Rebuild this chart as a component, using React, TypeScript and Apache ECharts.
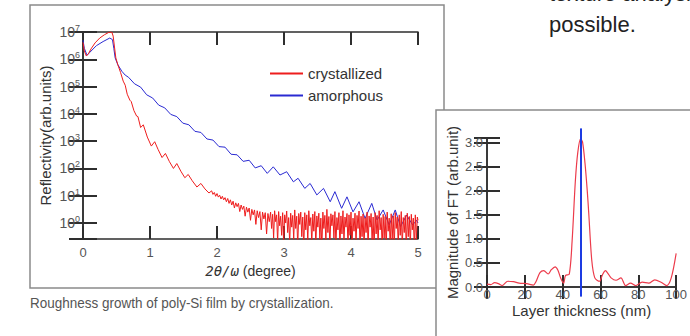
import React, { useEffect, useRef } from 'react';
import * as echarts from 'echarts';

// ---- main chart: X-ray reflectivity, [2theta (deg), log10 reflectivity] ----
const crystallized: [number, number][] = [
  [0.0, 6.62], [0.02, 6.3], [0.05, 6.12], [0.08, 6.2], [0.12, 6.38], [0.18, 6.6], [0.25, 6.78], [0.32, 6.9],
  [0.38, 6.98], [0.43, 7.0], [0.45, 6.85], [0.47, 6.45], [0.49, 6.05], [0.52, 5.8], [0.56, 5.52], [0.6, 5.2],
  [0.63, 5.05], [0.66, 4.72], [0.7, 4.5], [0.72, 4.45], [0.76, 4.12], [0.8, 3.92], [0.82, 3.9], [0.86, 3.5],
  [0.9, 3.6], [0.96, 3.15], [1.02, 2.82], [1.07, 2.98], [1.12, 2.7], [1.18, 2.4], [1.23, 2.55], [1.29, 2.25],
  [1.35, 2.0], [1.4, 2.18], [1.46, 1.9], [1.52, 1.66], [1.57, 1.78], [1.63, 1.55], [1.7, 1.32], [1.76, 1.45],
  [1.82, 1.25], [1.88, 1.1], [1.92, 1.18], [1.94, 1.05], [1.96, 1.12], [1.98, 0.98], [2.0, 1.08], [2.02, 0.95],
  [2.04, 1.02], [2.06, 0.88], [2.08, 0.98], [2.1, 0.85], [2.12, 0.93], [2.14, 0.78], [2.16, 0.9], [2.18, 0.72],
  [2.2, 0.85], [2.22, 0.66], [2.24, 0.8], [2.26, 0.55], [2.28, 0.74], [2.3, 0.6], [2.32, 0.72], [2.34, 0.42],
  [2.36, 0.66], [2.38, 0.5], [2.4, 0.62], [2.42, 0.25], [2.44, 0.58], [2.46, 0.4], [2.48, 0.55], [2.5, 0.1],
  [2.52, 0.5], [2.54, 0.3], [2.56, 0.48], [2.58, -0.05], [2.6, 0.45], [2.62, 0.2], [2.64, 0.42], [2.66, -0.25],
  [2.68, 0.4], [2.7, 0.15], [2.72, 0.38], [2.74, -0.4], [2.76, 0.35], [2.78, 0.05],
  [2.8, 0.4], [2.815, -0.2], [2.83, 0.32], [2.845, -0.55], [2.86, 0.45], [2.875, 0.05], [2.89, 0.3], [2.905, -0.7],
  [2.92, 0.42], [2.935, -0.1], [2.95, 0.25], [2.965, -0.45], [2.98, 0.38], [2.995, -0.8], [3.01, 0.3], [3.025, 0.0],
  [3.04, 0.44], [3.055, -0.35], [3.07, 0.2], [3.085, -0.75], [3.1, 0.36], [3.115, -0.15], [3.13, 0.28], [3.145, -0.6],
  [3.16, 0.48], [3.175, -0.2], [3.19, 0.25], [3.205, -0.85], [3.22, 0.35], [3.235, -0.05], [3.25, 0.4], [3.265, -0.5],
  [3.28, 0.22], [3.295, -0.9], [3.31, 0.38], [3.325, -0.25], [3.34, 0.3], [3.355, -0.65], [3.37, 0.45], [3.385, -0.1],
  [3.4, 0.2], [3.415, -0.75], [3.43, 0.33], [3.445, -0.3], [3.46, 0.42], [3.475, -0.85], [3.49, 0.26], [3.505, -0.15],
  [3.52, 0.36], [3.535, -0.6], [3.55, 0.18], [3.565, -0.95], [3.58, 0.4], [3.595, -0.2], [3.61, 0.28], [3.625, -0.7],
  [3.64, 0.5], [3.655, -0.35], [3.67, 0.24], [3.685, -0.9], [3.7, 0.34], [3.715, -0.1], [3.73, 0.3], [3.745, -0.55],
  [3.76, 0.42], [3.775, -0.8], [3.79, 0.2], [3.805, -0.25], [3.82, 0.38], [3.835, -0.95], [3.85, 0.26], [3.865, -0.4],
  [3.88, 0.45], [3.895, -0.7], [3.91, 0.22], [3.925, -0.15], [3.94, 0.35], [3.955, -0.85], [3.97, 0.3], [3.985, -0.45],
  [4.0, 0.4], [4.015, -0.9], [4.03, 0.18], [4.045, -0.3], [4.06, 0.36], [4.075, -0.75], [4.09, 0.28], [4.105, -0.2],
  [4.12, 0.44], [4.135, -0.95], [4.15, 0.25], [4.165, -0.5], [4.18, 0.33], [4.195, -0.85], [4.21, 0.2], [4.225, -0.35],
  [4.24, 0.4], [4.255, -0.9], [4.27, 0.26], [4.285, -0.15], [4.3, 0.35], [4.315, -0.7], [4.33, 0.22], [4.345, -0.95],
  [4.36, 0.38], [4.375, -0.4], [4.39, 0.28], [4.405, -0.8], [4.42, 0.45], [4.435, -0.25], [4.45, 0.2], [4.465, -0.9],
  [4.48, 0.32], [4.495, -0.55], [4.51, 0.24], [4.525, -0.95], [4.54, 0.4], [4.555, -0.3], [4.57, 0.18], [4.585, -0.85],
  [4.6, 0.34], [4.615, -0.6], [4.63, 0.26], [4.645, -0.95], [4.66, 0.38], [4.675, -0.2], [4.69, 0.22], [4.705, -0.8],
  [4.72, 0.3], [4.735, -0.45], [4.75, 0.42], [4.765, -0.9], [4.78, 0.2], [4.795, -0.35], [4.81, 0.28], [4.825, -0.95],
  [4.84, 0.36], [4.855, -0.5], [4.87, 0.24], [4.885, -0.85], [4.9, 0.32], [4.915, -0.25], [4.93, 0.18], [4.945, -0.9],
  [4.96, 0.3], [4.975, -0.6], [4.99, 0.22], [5.0, 0.1],
];

const amorphous: [number, number][] = [
  [0.0, 6.7], [0.02, 6.4], [0.06, 6.15], [0.1, 6.25], [0.2, 6.5], [0.3, 6.65], [0.4, 6.78], [0.44, 6.72],
  [0.46, 6.4], [0.48, 6.05], [0.52, 5.8], [0.58, 5.56], [0.63, 5.42], [0.68, 5.34], [0.77, 5.1], [0.86, 4.98],
  [0.95, 4.7], [1.04, 4.58], [1.13, 4.32], [1.22, 4.22], [1.31, 3.98], [1.4, 3.9], [1.49, 3.66], [1.58, 3.6],
  [1.67, 3.36], [1.76, 3.32], [1.85, 3.08], [1.94, 3.04], [2.03, 2.8], [2.12, 2.78], [2.21, 2.52], [2.3, 2.5],
  [2.39, 2.26], [2.48, 2.3], [2.57, 2.02], [2.66, 2.1], [2.75, 1.82], [2.84, 2.06], [2.94, 1.76], [3.04, 1.88],
  [3.14, 1.51], [3.21, 1.64], [3.31, 1.27], [3.39, 1.45], [3.49, 1.03], [3.59, 1.27], [3.69, 0.78], [3.76, 1.15],
  [3.86, 0.54], [3.94, 0.96], [4.03, 0.41], [4.12, 0.78], [4.21, 0.17], [4.31, 0.72], [4.39, 0.11], [4.48, 0.48],
  [4.57, -0.07], [4.66, 0.48], [4.74, -0.13], [4.83, 0.29], [4.92, -0.07], [4.98, 0.1], [5.0, 0.0],
];

const seriesNames = ['crystallized', 'amorphous'];

// ---- inset: Fourier transform magnitude vs layer thickness ----
const layerThickness = [
  0, 2, 4, 6, 8, 11, 14, 17, 21, 24.5, 26, 28, 30, 32.3, 34, 36, 37.5, 39, 40.5, 41.5, 43.5, 45, 46.7, 48,
  49.5, 50.5, 51.8, 53, 53.8, 55.4, 57, 59.5, 61, 62.6, 64, 65.6, 68.2, 70.8, 73.3, 75.9, 78.5, 82, 85.5, 88.7,
  92, 95, 97.4, 100,
];
const ftMagnitude = [
  0.06, 0.05, 0.09, 0.07, 0.03, 0.12, 0.11, 0.08, 0.07, 0.04, 0.12, 0.3, 0.34, 0.27, 0.36, 0.42, 0.35, 0.18,
  0.08, 0.24, 0.27, 0.96, 2.2, 2.8, 3.08, 3.02, 2.58, 2.0, 1.53, 0.55, 0.19, 0.12, 0.25, 0.34, 0.28, 0.19, 0.14,
  0.19, 0.03, 0.08, 0.03, 0.1, 0.08, 0.15, 0.1, 0.03, 0.19, 0.7,
];
const peakThickness = 49.7;
const peakLineSpan = [-0.2, 3.3];

const FONT = '"Liberation Sans", Arial, Helvetica, sans-serif';
const AXIS = '#2e2e2e';
const RED = '#ee1d1d';
const BLUE = '#2a2ad2';

export default function App() {
  const ref = useRef<HTMLDivElement>(null);

  useEffect(() => {
    if (!ref.current) return;
    const chart = echarts.init(ref.current, undefined, { renderer: 'svg' });

    const axisLine = { show: true, lineStyle: { color: AXIS, width: 1.5 } };
    const tick = (len: number) => ({ show: true, inside: true, length: len, lineStyle: { color: AXIS, width: 2 } });
    const toLog = (d: [number, number][]) => d.map(([t, lg]) => [t, Math.pow(10, lg)]);

    const option: any = {
      animation: false,
      textStyle: { fontFamily: FONT },
      grid: [
        { left: 83, top: 32, width: 335, height: 207, containLabel: false },
        { left: 487, top: 138, width: 195, height: 149, containLabel: false },
      ],
      legend: {
        orient: 'vertical',
        left: 265,
        top: 61,
        itemWidth: 33,
        itemHeight: 2,
        itemGap: 7,
        icon: 'rect',
        selectedMode: false,
        textStyle: { fontSize: 15, color: '#333', fontFamily: FONT },
        data: seriesNames,
      },
      xAxis: [
        {
          gridIndex: 0, type: 'value', position: 'bottom', min: 0, max: 5, interval: 1,
          axisLine, axisTick: tick(13), splitLine: { show: false },
          axisLabel: { fontSize: 13, color: '#555', margin: 7 },
          name: '{i|2θ/ω} (degree)', nameLocation: 'middle', nameGap: 21,
          nameTextStyle: {
            fontSize: 14, color: '#333', fontFamily: FONT,
            rich: { i: { fontSize: 14, fontStyle: 'italic', fontFamily: '"DejaVu Sans Mono", monospace', color: '#333' } },
          },
        },
        {
          gridIndex: 0, type: 'value', position: 'top', min: 0, max: 5, interval: 1,
          axisLine, axisTick: tick(13), splitLine: { show: false }, axisLabel: { show: false },
        },
        {
          gridIndex: 1, type: 'value', position: 'bottom', min: 0, max: 100, interval: 20,
          axisLine, axisTick: tick(12), splitLine: { show: false },
          axisLabel: { fontSize: 13, color: '#555', margin: 1 },
          name: 'Layer thickness (nm)', nameLocation: 'middle', nameGap: 16,
          nameTextStyle: { fontSize: 15, color: '#333', fontFamily: FONT },
        },
        {
          gridIndex: 1, type: 'value', position: 'top', min: 0, max: 100, interval: 20,
          axisLine, axisTick: tick(12), splitLine: { show: false }, axisLabel: { show: false },
        },
      ],
      yAxis: [
        {
          gridIndex: 0, type: 'log', logBase: 10, position: 'left', min: 0.26, max: 1e7,
          axisLine, axisTick: tick(14), splitLine: { show: false }, minorTick: { show: false },
          axisLabel: {
            margin: 3, color: '#555',
            formatter: (v: number) => {
              const lg = Math.log10(v);
              const e = Math.round(lg);
              if (Math.abs(lg - e) > 0.01) return '';
              return `{b|10}{e|${e}}`;
            },
            rich: {
              b: { fontSize: 14, lineHeight: 17, color: '#555', fontFamily: FONT },
              e: { fontSize: 9, lineHeight: 9, verticalAlign: 'top', color: '#555', fontFamily: FONT },
            },
          },
          name: 'Reflectivity(arb.units)', nameLocation: 'middle', nameGap: 30, nameRotate: 90,
          nameTextStyle: { fontSize: 15, color: '#333', fontFamily: FONT },
        },
        {
          gridIndex: 0, type: 'log', logBase: 10, position: 'right', min: 0.26, max: 1e7,
          axisLine, axisTick: tick(14), splitLine: { show: false }, axisLabel: { show: false },
        },
        {
          gridIndex: 1, type: 'value', position: 'left', min: 0, max: 3.1, interval: 0.5,
          axisLine, axisTick: tick(13), splitLine: { show: false },
          axisLabel: {
            fontSize: 13, color: '#555', margin: 4,
            formatter: (v: number) => (v > 3.05 ? '' : v.toFixed(1)),
          },
          name: 'Magnitude of FT (arb.unit)', nameLocation: 'middle', nameGap: 27, nameRotate: 90,
          nameTextStyle: { fontSize: 15, color: '#333', fontFamily: FONT },
        },
        {
          gridIndex: 1, type: 'value', position: 'right', min: 0, max: 3.1, interval: 0.5,
          axisLine, axisTick: tick(13), splitLine: { show: false }, axisLabel: { show: false },
        },
      ],
      series: [
        {
          name: seriesNames[0], type: 'line', xAxisIndex: 0, yAxisIndex: 0, data: toLog(crystallized),
          showSymbol: false, symbol: 'none', color: RED, lineStyle: { color: RED, width: 1 }, z: 3,
        },
        {
          name: seriesNames[1], type: 'line', xAxisIndex: 0, yAxisIndex: 0, data: toLog(amorphous),
          showSymbol: false, symbol: 'none', color: BLUE, lineStyle: { color: BLUE, width: 1 }, z: 2,
        },
        {
          name: 'FT', type: 'line', xAxisIndex: 2, yAxisIndex: 2,
          data: layerThickness.map((t, i) => [t, ftMagnitude[i]]),
          showSymbol: false, symbol: 'none', smooth: 0.3, color: '#ec3b4b', lineStyle: { color: '#ec3b4b', width: 1.2 },
        },
        {
          name: 'peak', type: 'line', xAxisIndex: 2, yAxisIndex: 2, clip: false,
          data: peakLineSpan.map((y) => [peakThickness, y]),
          showSymbol: false, symbol: 'none', color: '#1d3be2', lineStyle: { color: '#1d3be2', width: 2 },
        },
      ],
      graphic: {
        elements: [
          {
            type: 'rect', z: -2, shape: { x: 30, y: 5, width: 414, height: 283 },
            style: { fill: '#fff', stroke: '#8a8a8a', lineWidth: 1.5 },
          },
          {
            type: 'rect', z: -1, shape: { x: 436, y: 110, width: 300, height: 300 },
            style: { fill: '#fff', stroke: '#8a8a8a', lineWidth: 1.5 },
          },
          {
            type: 'text', x: 30, y: 303, scaleX: 0.9,
            style: {
              text: 'Roughness growth of poly-Si film by crystallization.', fontSize: 15, fontFamily: FONT,
              fill: '#555', verticalAlign: 'middle', textVerticalAlign: 'middle',
            },
          },
          {
            type: 'text', x: 549, y: 24,
            style: {
              text: 'possible.', fontSize: 22, fontFamily: FONT, fill: '#222',
              verticalAlign: 'middle', textVerticalAlign: 'middle',
            },
          },
          {
            type: 'text', x: 549, y: -6.5,
            style: {
              text: 'texture analysis is', fontSize: 22, fontFamily: FONT, fill: '#222',
              verticalAlign: 'middle', textVerticalAlign: 'middle',
            },
          },
        ],
      },
    };

    chart.setOption(option);
    return () => chart.dispose();
  }, []);

  return (
    <div
      ref={ref}
      style={{ position: 'fixed', left: 0, top: 0, width: 690, height: 336, background: '#fff' }}
    />
  );
}
